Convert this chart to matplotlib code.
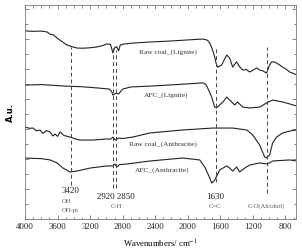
import matplotlib
matplotlib.use("Agg")
import matplotlib.pyplot as plt
from matplotlib.ticker import MultipleLocator, NullFormatter

plt.rcParams["mathtext.fontset"] = "stix"

# ---- data ----
raw_lig_w = [4000, 3900, 3800, 3730, 3693, 3650, 3607, 3550, 3485, 3420, 3362, 3300, 3239, 3180, 3117, 3050, 2994,
             2950, 2920, 2900, 2875, 2850, 2830, 2780, 2675, 2466, 2200, 1950, 1816, 1760, 1730, 1700, 1669, 1650,
             1632, 1605, 1583, 1550, 1521, 1500, 1485, 1448, 1420, 1399, 1370, 1325, 1280, 1239, 1200, 1153,
             1117, 1080, 1055, 1031, 1000, 969, 933, 880, 834, 790, 748, 700, 663]
raw_lig_y = [87.9, 87.7, 87.8, 87.4, 86.4, 86.0, 84.6, 83.0, 81.3, 80.5, 79.9, 79.8, 79.9, 80.1, 80.4, 81.0, 81.8,
             81.6, 77.6, 80.0, 80.6, 78.6, 81.3, 81.8, 82.2, 82.7, 83.2, 83.8, 84.1, 83.6, 82.2, 79.5, 75.7, 72.5,
             71.0, 71.5, 72.0, 74.5, 76.6, 75.8, 75.2, 71.0, 72.5, 73.4, 71.5, 69.6, 69.8, 68.7, 69.5, 70.6,
             69.6, 69.3, 68.7, 68.2, 71.5, 73.4, 73.4, 72.2, 71.0, 70.0, 68.7, 68.0, 67.3]

afc_lig_w = [4000, 3800, 3500, 3300, 3100, 2960, 2935, 2920, 2900, 2880, 2850, 2820, 2800, 2700, 2466, 2100,
             1816, 1780, 1755, 1706, 1669, 1645, 1608, 1560, 1521, 1485, 1423, 1387, 1325, 1239, 1117, 1031,
             957, 834, 750, 663]
afc_lig_y = [62.6, 62.8, 62.1, 61.8, 61.2, 60.7, 59.5, 57.9, 58.3, 58.9, 58.4, 59.8, 60.7, 61.7, 62.1, 62.9,
             63.6, 63.0, 61.2, 57.0, 52.3, 51.9, 53.3, 55.0, 57.0, 55.6, 53.3, 54.7, 52.3, 51.9, 52.3, 54.2,
             55.6, 54.7, 53.8, 52.8]

raw_ant_w = [4000, 3950, 3902, 3860, 3816, 3780, 3740, 3693, 3660, 3632, 3600, 3571, 3520, 3448, 3390, 3325,
             3166, 2994, 2950, 2920, 2890, 2850, 2800, 2675, 2466, 2061, 1693, 1448, 1276, 1202, 1117, 1055,
             1031, 994, 957, 908, 834, 748, 663]
raw_ant_y = [43.0, 42.4, 42.5, 41.2, 41.6, 40.0, 41.3, 40.7, 38.8, 39.7, 38.6, 40.7, 39.0, 38.3, 37.5, 36.9,
             36.9, 37.4, 37.3, 38.2, 37.0, 37.8, 37.6, 38.3, 40.2, 41.6, 42.5, 42.5, 41.6, 39.3, 34.6, 29.0,
             28.5, 29.9, 35.5, 38.3, 40.2, 41.1, 41.6]

afc_ant_w = [4000, 3800, 3693, 3607, 3534, 3448, 3362, 3202, 2994, 2920, 2896, 2871, 2840, 2748, 2466, 2061,
             1853, 1791, 1730, 1706, 1669, 1607, 1522, 1485, 1448, 1399, 1362, 1300, 1239, 1117, 1018, 957,
             748, 663]
afc_ant_y = [28.5, 28.2, 27.6, 26.2, 23.8, 22.0, 22.4, 23.8, 24.8, 24.8, 25.7, 24.3, 25.4, 25.7, 27.1, 28.5,
             27.6, 24.3, 19.2, 16.8, 18.2, 22.9, 24.8, 23.8, 22.4, 24.3, 22.0, 23.8, 25.2, 26.2, 25.7, 27.1,
             27.6, 27.1]

series_labels = ["Raw coal_(Lignite)", "AFC_(Lignite)", "Raw coal_(Anthracite)", "AFC_(Anthracite)"]

peak_lines_w = [3440, 2920, 2880, 1650, 1030]
peak_lines_top = [80.4, 80.4, 79.0, 80.0, 80.4]
peak_lines_bot = [15.9, 14.5, 14.5, 17.3, 12.1]

x_ticks = [4000, 3600, 3200, 2800, 2400, 2000, 1600, 1200, 800]

# ---- figure ----
fig = plt.figure(figsize=(3.02, 2.5), dpi=100)
ax = fig.add_axes([0.083, 0.124, 0.897, 0.856])

serif = ["Liberation Serif", "DejaVu Serif"]

for w, y in [(raw_lig_w, raw_lig_y), (afc_lig_w, afc_lig_y), (raw_ant_w, raw_ant_y), (afc_ant_w, afc_ant_y)]:
    ax.plot(w, y, color="#222222", lw=0.8)

for w, t, b in zip(peak_lines_w, peak_lines_top, peak_lines_bot):
    ax.plot([w, w], [b, t], color="#444444", lw=0.7, dashes=(4, 3))

# series labels
lab_kw = dict(fontsize=5.3, family=serif, ha="right", va="center", color="#333333")
ax.text(1890, 78.0, series_labels[0], **lab_kw)
ax.text(1990, 57.8, series_labels[1], **lab_kw)
ax.text(1890, 35.0, series_labels[2], **lab_kw)
ax.text(1975, 23.0, series_labels[3], **lab_kw)

# peak annotations
ax.text(3440, 13.0, "3420", fontsize=6.5, family=serif, ha="center", va="center", color="#222222")
ax.text(3550, 8.0, "OH", fontsize=4.8, family=serif, ha="left", va="center", color="#555555")
ax.text(3550, 3.9, "OH-pi", fontsize=4.8, family=serif, ha="left", va="center", color="#555555")
ax.text(2880, 10.5, "2920 2850", fontsize=6.5, family=serif, ha="center", va="center", color="#222222")
ax.text(2880, 6.0, "C-H", fontsize=4.8, family=serif, ha="center", va="center", color="#555555")
ax.text(1660, 10.5, "1630", fontsize=6.5, family=serif, ha="center", va="center", color="#222222")
ax.text(1660, 6.0, "C=C", fontsize=4.8, family=serif, ha="center", va="center", color="#555555")
ax.text(1030, 6.0, "C-O(Alcohol)", fontsize=4.8, family=serif, ha="center", va="center", color="#555555")

ax.set_xlim(4000, 670)
ax.set_ylim(0, 100)
ax.set_xticks(x_ticks)
ax.xaxis.set_minor_locator(MultipleLocator(100))
ax.yaxis.set_major_locator(MultipleLocator(14))
ax.yaxis.set_minor_locator(MultipleLocator(7))
ax.yaxis.set_major_formatter(NullFormatter())
ax.tick_params(which="both", direction="in", top=True, right=True, colors="#555555",
               labelcolor="#222222", width=0.5)
ax.tick_params(which="major", length=3)
ax.tick_params(which="minor", length=1.8)
for lab in ax.get_xticklabels():
    lab.set_fontfamily(serif)
    lab.set_fontsize(6.3)
ax.tick_params(axis="x", pad=3)
for s in ax.spines.values():
    s.set_color("#777777")
    s.set_linewidth(0.6)

ax.set_xlabel("Wavenumbers/ cm$^{-1}$", fontsize=6.3, family=serif, labelpad=5)
ax.set_ylabel("A.u.", fontsize=6, fontweight="bold", family="DejaVu Sans", labelpad=4)

fig.savefig("out.png", dpi=100)
